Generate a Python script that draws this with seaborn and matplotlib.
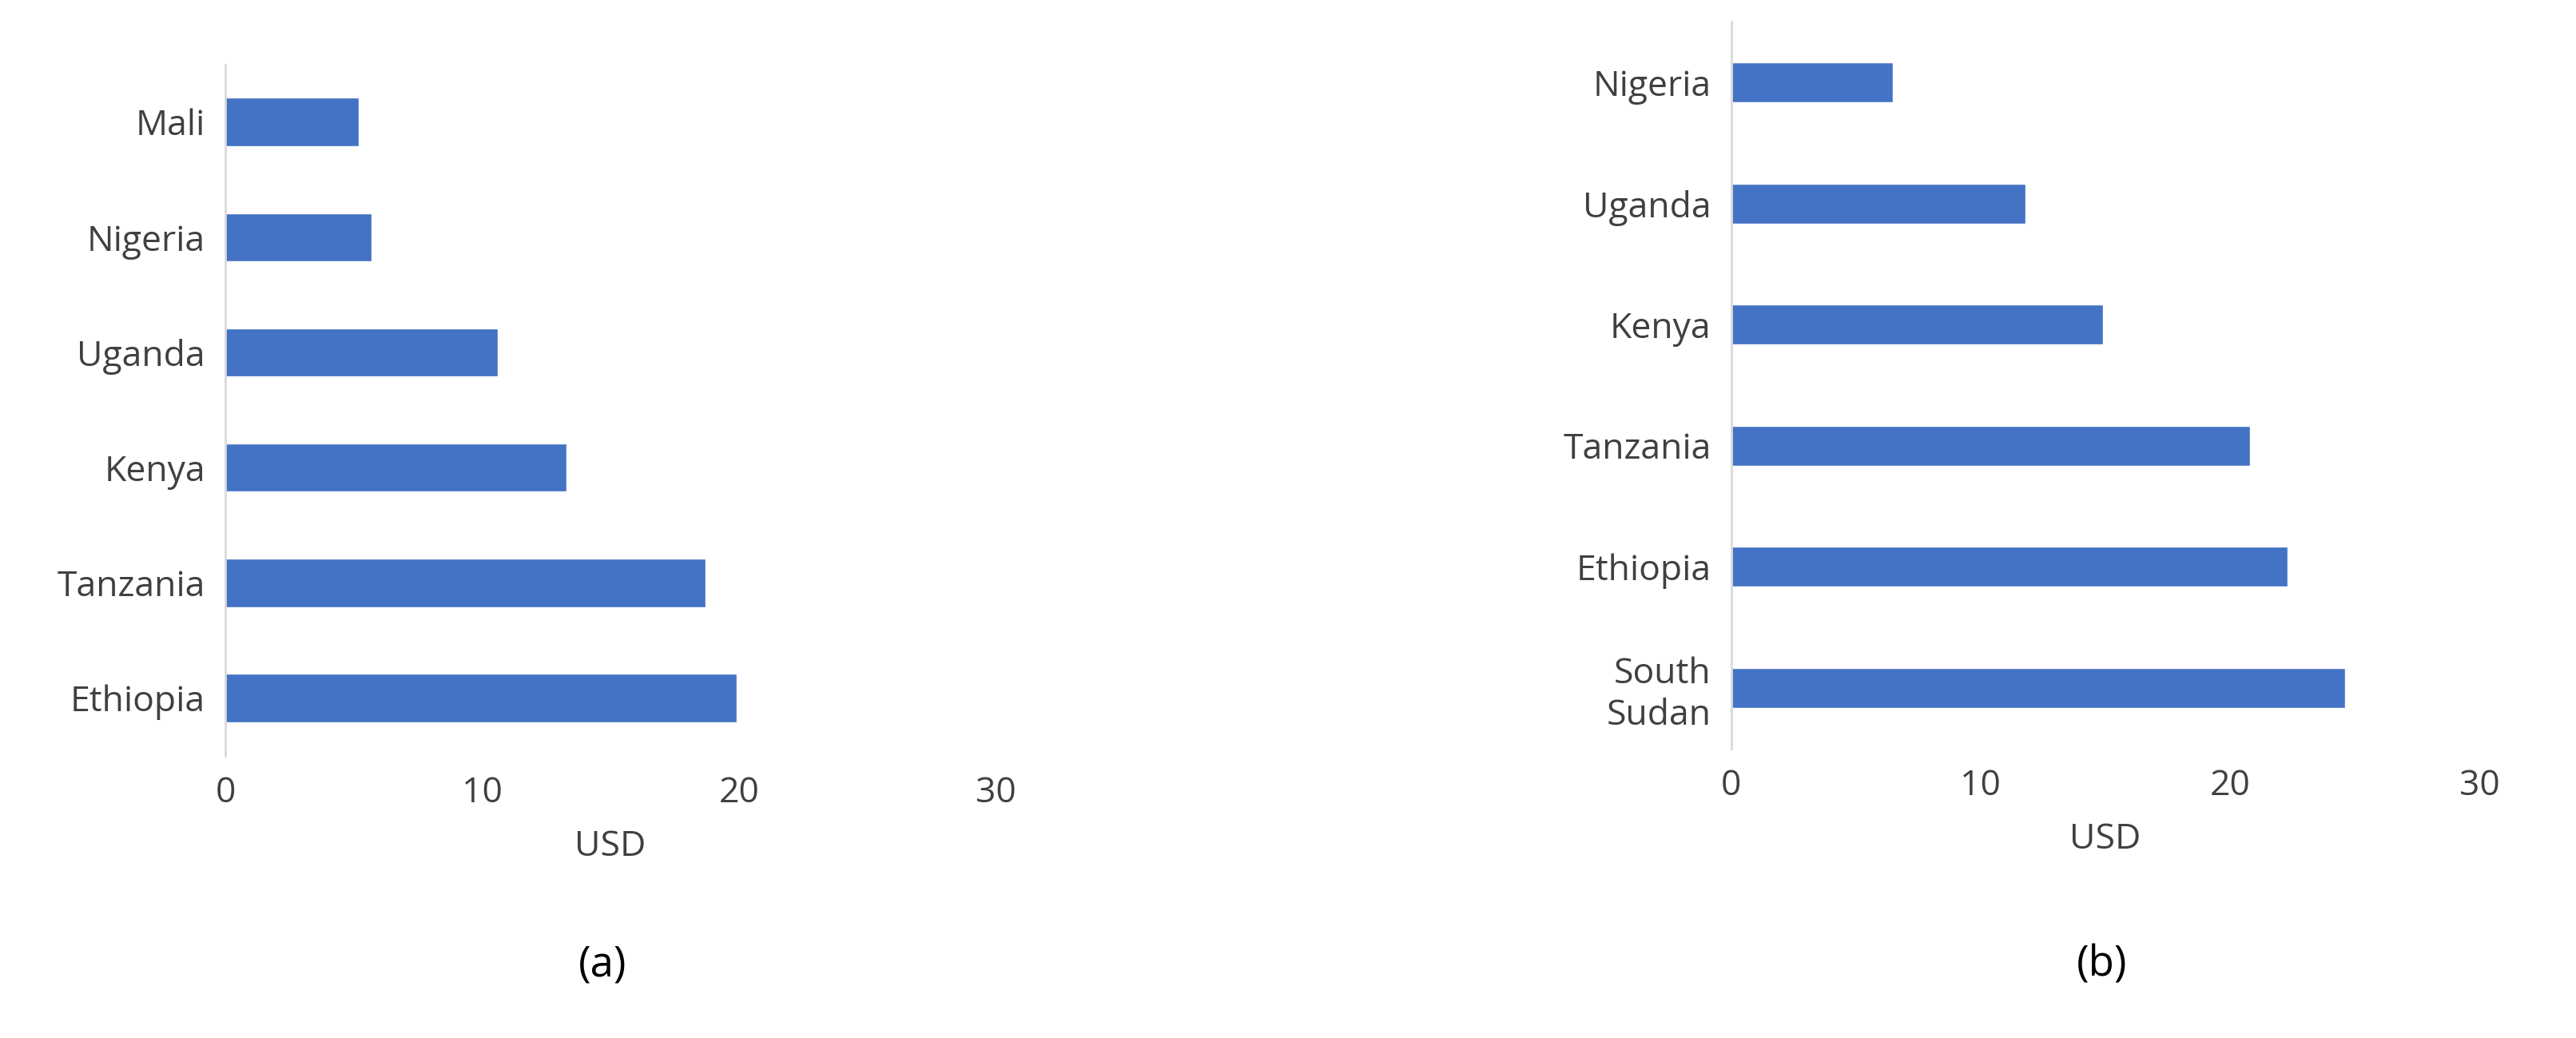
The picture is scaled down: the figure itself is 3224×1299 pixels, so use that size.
import matplotlib
matplotlib.use("Agg")
import matplotlib.pyplot as plt
import seaborn as sns
import pandas as pd

countries_a = ["Mali", "Nigeria", "Uganda", "Kenya", "Tanzania", "Ethiopia"]
values_a = [5.2, 5.7, 10.6, 13.3, 18.7, 19.9]
countries_b = ["Nigeria", "Uganda", "Kenya", "Tanzania", "Ethiopia", "South\nSudan"]
values_b = [6.5, 11.8, 14.9, 20.8, 22.3, 24.6]
xticks = [0, 10, 20, 30]

sns.set_style("white")
plt.rcParams['font.family'] = ['Open Sans', 'DejaVu Sans']
fig = plt.figure(figsize=(32.24, 12.99), dpi=100)
axa = fig.add_axes([0.0875, 0.272, 0.299, 0.666])
axb = fig.add_axes([0.672, 0.279, 0.2905, 0.70])

def draw(ax, cats, vals, width):
    df = pd.DataFrame({"c": cats, "v": vals})
    sns.barplot(data=df, x="v", y="c", ax=ax, color="#4472C4", width=width, saturation=1)
    ax.set_xlim(0, 30)
    ax.set_xticks(xticks)
    ax.set_ylabel("")
    ax.set_xlabel("USD", fontsize=32, color="#404040", labelpad=16)
    ax.tick_params(axis="both", labelsize=32, colors="#404040", length=0, pad=18)
    for s in ["top", "right", "bottom"]:
        ax.spines[s].set_visible(False)
    ax.spines["left"].set_color("#d9d9d9")
    ax.spines["left"].set_linewidth(2)

draw(axa, countries_a, values_a, 0.42)
draw(axb, countries_b, values_b, 0.33)
fig.text(0.234, 0.06, "(a)", fontsize=38, ha="center", color="black")
fig.text(0.816, 0.06, "(b)", fontsize=38, ha="center", color="black")
fig.savefig("out.png", dpi=100, facecolor="white")
